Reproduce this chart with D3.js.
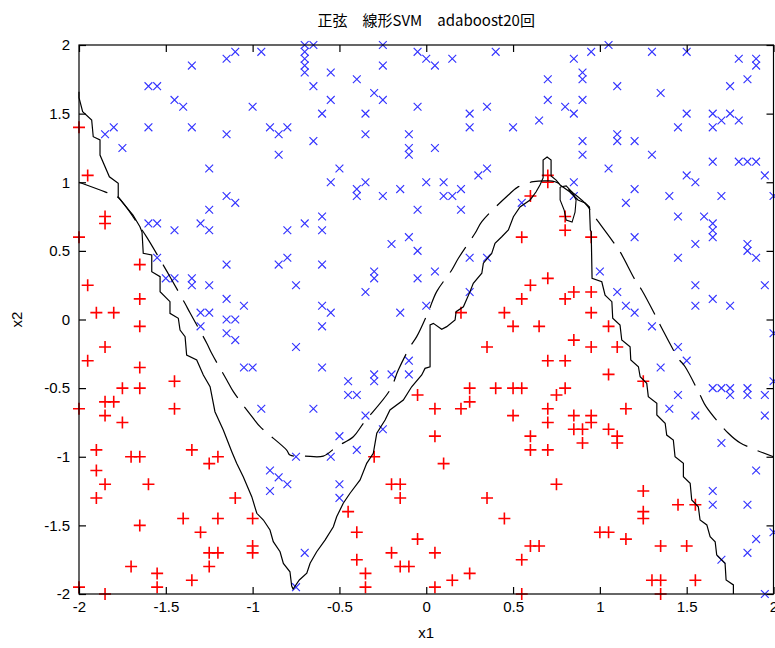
<!DOCTYPE html>
<html>
<head>
<meta charset="utf-8">
<script src="https://cdn.jsdelivr.net/npm/d3@7"></script>
<style>
  html, body { margin: 0; padding: 0; background: #fff; }
  svg { display: block; }
  .tick-label { font-family: "Liberation Sans", Arial, sans-serif; font-size: 15px; fill: #000; }
</style>
</head>
<body>
<svg id="chart" width="775" height="648"></svg>
<script>
// Axis tick values
const xTicks = [-2, -1.5, -1, -0.5, 0, 0.5, 1, 1.5, 2];
const yTicks = [-2, -1.5, -1, -0.5, 0, 0.5, 1, 1.5, 2];

// Class "x" samples (above the sine boundary)
const crossPts = [
  [-1.15,1.9],[-1.1,1.95],[-0.95,1.95],[-1.35,1.85],[-1.6,1.7],[-1.55,1.7],[-1.45,1.6],[-1.4,1.55],[-1.0,1.55],
  [-1.85,1.35],[-1.8,1.4],[-1.6,1.4],[-1.35,1.4],[-1.15,1.35],[-0.9,1.4],[-0.85,1.35],[-0.8,1.4],
  [-1.75,1.25],[-0.85,1.2],[-1.25,1.1],[-1.15,0.9],[-1.1,0.85],[-1.25,0.8],[-1.6,0.7],[-1.55,0.7],
  [-1.45,0.65],[-1.3,0.7],[-1.25,0.65],[-0.8,0.65],[-0.7,0.7],[-0.65,1.7],[-0.65,1.3],[-0.6,1.5],[-0.6,0.75],[-0.6,0.65],
  [-0.7,2.0],[-0.65,2.0],[-0.7,1.95],[-0.7,1.9],[-0.7,1.85],[-0.7,1.8],
  [-0.25,2.0],[-0.05,1.95],[0,1.9],[0.05,1.85],[0.15,1.9],[0.4,1.95],[-0.25,1.85],[-0.55,1.8],[-0.4,1.75],
  [-0.3,1.65],[-0.25,1.6],[-0.55,1.6],[-0.05,1.55],[-0.35,1.5],[0.25,1.5],[0.35,1.55],[0.7,1.75],[0.7,1.6],
  [0.25,1.4],[0.5,1.4],[0.65,1.45],[-0.35,1.35],[-0.1,1.35],[-0.1,1.25],[-0.1,1.2],[0.05,1.25],[-0.5,1.1],
  [-0.55,1.0],[-0.35,1.0],[-0.4,0.95],[-0.4,0.9],[-0.25,0.9],[-0.15,0.95],[0,1.0],[0.1,1.0],[0.1,0.9],[0.15,0.9],[0.2,0.95],
  [0.3,1.05],[0.35,1.1],[-0.05,0.8],[0.2,0.8],[-0.1,0.6],[0.55,0.85],
  [1.05,2.0],[0.95,1.95],[0.85,1.9],[1.3,1.95],[1.5,1.95],[1.8,1.9],[1.9,1.9],[1.9,1.85],[0.9,1.8],[0.9,1.75],
  [1.1,1.7],[1.35,1.65],[1.75,1.7],[1.85,1.75],[0.8,1.55],[0.85,1.5],[0.9,1.6],[1.5,1.5],[1.45,1.4],
  [1.65,1.5],[1.7,1.45],[1.75,1.5],[1.8,1.45],[1.65,1.4],[1.1,1.35],[1.1,1.3],[1.2,1.3],[0.9,1.3],[0.9,1.2],[1.3,1.2],
  [1.05,1.1],[1.65,1.15],[1.8,1.15],[1.85,1.15],[1.9,1.15],[1.95,1.05],[1.5,1.05],[1.55,1.0],[0.85,1.0],[1.2,0.95],
  [1.15,0.85],[1.4,0.9],[1.7,0.9],[2.0,0.9],[1.45,0.75],[1.6,0.75],[1.65,0.7],[1.65,0.65],[1.65,0.6],[1.2,0.6],[0.85,0.9],
  [-0.2,0.55],[-0.05,0.5],[-1.55,0.45],[-1.15,0.4],[-0.85,0.4],[-0.8,0.45],[-0.6,0.4],[-1.5,0.3],[-1.45,0.3],[-1.35,0.3],[-1.35,0.25],[-1.25,0.25],
  [-0.75,0.25],[-0.3,0.35],[-0.3,0.3],[-0.35,0.2],[-0.05,0.3],[-1.15,0.15],[-1.05,0.1],[-1.3,0.05],[-1.25,0.05],[-0.6,0.1],[-0.55,0.05],
  [-0.15,0.05],[0,0.1],[-1.15,0],[-1.1,0],[-1.3,-0.05],[-1.15,-0.1],[-1.1,-0.15],[-0.6,-0.05],[-0.75,-0.2],[-1.05,-0.35],[-1.0,-0.35],
  [-0.6,-0.35],[-0.1,-0.3],[-0.1,-0.4],[-0.2,-0.4],[-0.3,-0.4],[-0.3,-0.45],[-0.45,-0.45],[-0.45,-0.55],[-0.4,-0.55],[-0.95,-0.65],[-0.65,-0.65],
  [-0.35,-0.7],[-0.25,-0.8],[-0.5,-0.85],[-0.4,-0.95],[-0.75,-1.0],[-0.55,-1.0],[-0.9,-1.1],[-0.85,-1.15],[-0.8,-1.2],[-0.9,-1.25],
  [-0.5,-1.2],[-0.5,-1.3],[-0.7,-1.7],[-0.75,-1.95],
  [1.55,0.55],[1.85,0.55],[1.85,0.5],[1.9,0.45],[1.45,0.45],[0.25,0.45],[0.35,0.45],[0.05,0.35],[1.0,0.35],[0.25,0.2],[1.1,0.2],
  [1.15,0.1],[1.2,0.05],[1.55,0.25],[1.65,0.15],[1.75,0.1],[1.55,0.1],[1.95,0.25],[1.3,-0.05],[2.0,-0.1],[1.45,-0.2],[1.5,-0.3],[1.35,-0.35],
  [1.65,-0.5],[1.7,-0.5],[1.75,-0.5],[1.75,-0.55],[1.85,-0.5],[1.85,-0.55],[1.95,-0.55],[2.0,-0.45],[1.45,-0.55],[1.4,-0.65],[1.55,-0.7],[1.95,-0.7],
  [1.7,-0.9],[1.9,-1.1],[1.65,-1.25],[1.65,-1.35],[1.85,-1.35],[1.9,-1.6],[2.0,-1.55],[1.85,-1.7],[1.7,-1.75],[1.95,-2.0]
];

// Class "+" samples (below the sine boundary)
const plusPts = [
  [-2.0,1.4],[-1.95,1.05],[-1.85,0.75],[-1.85,0.7],[-2.0,0.6],[-1.65,0.4],[-1.95,0.25],[-1.65,0.15],[-1.9,0.05],[-1.8,0.05],
  [-1.65,-0.05],[-1.85,-0.2],[-1.95,-0.3],[-1.65,-0.35],[-1.45,-0.45],[-1.75,-0.5],[-1.65,-0.5],[-1.85,-0.6],[-1.8,-0.6],[-1.85,-0.7],
  [-1.45,-0.65],[-2.0,-0.65],[-1.75,-0.75],[-1.9,-0.95],[-1.7,-1.0],[-1.65,-1.0],[-1.35,-0.95],[-1.2,-1.0],[-1.25,-1.05],[-1.9,-1.1],
  [-1.85,-1.2],[-1.6,-1.2],[-1.9,-1.3],[-1.1,-1.3],[-1.4,-1.45],[-1.2,-1.45],[-1.0,-1.45],[-1.65,-1.5],[-1.3,-1.55],[-0.45,-1.4],
  [-0.4,-1.55],[-1.0,-1.65],[-1.0,-1.7],[-1.25,-1.7],[-1.2,-1.7],[-1.25,-1.8],[-1.7,-1.8],[-1.55,-1.85],[-1.55,-1.95],[-1.35,-1.9],
  [-0.4,-1.75],[-0.35,-1.85],[-0.35,-1.95],[-0.2,-1.7],[-0.15,-1.8],[-0.1,-1.8],[-0.05,-1.6],[-0.2,-1.2],[-0.15,-1.2],[-0.15,-1.3],
  [-0.3,-1.0],[-0.05,-0.55],[-2.0,-1.95],[-1.85,-2.0],
  [0.7,1.05],[0.7,1.0],[0.6,0.9],[0.55,0.6],[0.8,0.75],[0.8,0.65],[0.95,0.6],
  [0.7,0.3],[0.6,0.25],[0.85,0.2],[0.95,0.2],[0.55,0.15],[0.8,0.15],[0.2,0.05],[0.45,0.05],[0.95,0.05],[0.5,-0.05],[0.65,-0.05],[1.05,-0.05],
  [0.85,-0.15],[0.35,-0.2],[0.95,-0.2],[1.1,-0.2],[0.7,-0.3],[0.8,-0.3],[1.05,-0.4],[1.25,-0.45],[0.25,-0.5],[0.25,-0.6],[0.4,-0.5],[0.5,-0.5],[0.55,-0.5],
  [0.8,-0.5],[0.75,-0.55],[0.05,-0.65],[0.2,-0.65],[0.5,-0.7],[0.7,-0.65],[0.7,-0.75],[0.85,-0.7],[0.85,-0.8],[0.95,-0.7],[0.95,-0.75],
  [0.9,-0.8],[0.9,-0.9],[1.05,-0.8],[1.1,-0.85],[1.1,-0.9],[1.15,-0.65],[0.05,-0.85],[0.6,-0.85],[0.6,-0.95],[0.7,-0.95],[0.1,-1.05],
  [0.75,-1.2],[0.35,-1.3],[0.45,-1.45],[1.25,-1.25],[1.25,-1.4],[1.25,-1.45],[1.45,-1.35],[1.55,-1.35],[1.0,-1.55],[1.05,-1.55],[1.15,-1.6],
  [1.35,-1.65],[1.5,-1.65],[0.6,-1.65],[0.65,-1.65],[0.55,-1.75],[0.05,-1.7],[0.25,-1.85],[0.15,-1.9],[0.05,-1.95],[1.3,-1.9],[1.35,-1.9],[1.35,-2.0],
  [1.55,-1.9],[0.55,-2.0]
];

// Reference sine boundary (dashed)
const sineLine = [
  [-2.0,1.0],[-1.85,0.93],[-1.78,0.895],[-1.65,0.676],[-1.61,0.6],[-1.515,0.397],[-1.476,0.312],[-1.39,0.118],[-1.36,0.047],
  [-1.264,-0.173],[-1.236,-0.246],[-1.149,-0.441],[-1.111,-0.526],[-0.996,-0.72],[-0.957,-0.781],[-0.804,-0.951],[-0.785,-0.988],
  [-0.698,-0.995],[-0.593,-0.995],[-0.516,-0.927],[-0.42,-0.854],[-0.362,-0.756],[-0.209,-0.514],[-0.161,-0.368],[-0.093,-0.198],
  [-0.055,-0.125],[0.012,0.057],[0.06,0.203],[0.147,0.361],[0.185,0.446],[0.281,0.628],[0.32,0.713],[0.473,0.907],[0.531,0.968],
  [0.617,1.004],[0.69,1.01],[0.742,1.004],[0.915,0.847],[0.963,0.761],[1.069,0.579],[1.116,0.494],[1.203,0.288],[1.241,0.215],
  [1.328,0.009],[1.357,-0.064],[1.452,-0.283],[1.491,-0.344],[1.577,-0.55],[1.612,-0.635],[1.74,-0.829],[1.807,-0.898],[2.0,-1.0]
];

// AdaBoost (20 rounds) decision boundary (solid)
const boostLine = [
  [-2.0,1.66],[-2.0,1.616],[-1.979,1.514],[-1.927,1.454],[-1.918,1.332],[-1.879,1.308],[-1.879,1.198],[-1.825,1.04],[-1.774,0.992],
  [-1.774,0.894],[-1.745,0.846],[-1.689,0.761],[-1.649,0.676],[-1.637,0.637],[-1.63,0.482],[-1.581,0.47],[-1.581,0.348],[-1.533,0.312],
  [-1.533,0.203],[-1.476,0.13],[-1.476,0.045],[-1.428,0.009],[-1.418,-0.077],[-1.389,-0.125],[-1.38,-0.259],[-1.322,-0.295],[-1.284,-0.404],
  [-1.245,-0.49],[-1.217,-0.672],[-1.169,-0.805],[-1.12,-0.963],[-1.092,-1.048],[-1.054,-1.146],[-1.005,-1.291],[-0.976,-1.412],[-0.938,-1.461],
  [-0.9,-1.534],[-0.881,-1.619],[-0.842,-1.692],[-0.823,-1.777],[-0.785,-1.838],[-0.775,-1.942],[-0.767,-1.964],[-0.731,-1.898],[-0.688,-1.849],
  [-0.669,-1.776],[-0.631,-1.692],[-0.583,-1.607],[-0.535,-1.51],[-0.516,-1.437],[-0.478,-1.339],[-0.439,-1.266],[-0.381,-1.169],[-0.343,-1.048],
  [-0.305,-0.975],[-0.285,-0.829],[-0.237,-0.732],[-0.209,-0.659],[-0.132,-0.587],[-0.084,-0.49],[-0.026,-0.404],[-0.007,-0.356],[0.022,-0.344],
  [0.022,-0.04],[0.041,-0.028],[0.089,-0.071],[0.118,-0.052],[0.166,-0.004],[0.172,0.057],[0.214,0.093],[0.252,0.203],[0.271,0.264],
  [0.32,0.337],[0.329,0.41],[0.377,0.482],[0.396,0.555],[0.435,0.603],[0.473,0.652],[0.502,0.749],[0.54,0.82],[0.598,0.871],[0.632,0.929],
  [0.655,0.98],[0.673,1.031],[0.673,1.162],[0.696,1.184],[0.719,1.162],[0.719,1.046],[0.748,1.016],[0.771,0.98],[0.828,0.929],[0.874,0.871],
  [0.915,0.849],[0.94,0.82],[0.945,0.652],[0.95,0.64],[0.955,0.3],[1.011,0.275],[1.03,0.178],[1.069,0.13],[1.074,0.009],[1.116,-0.04],[1.126,-0.149],
  [1.174,-0.198],[1.178,-0.295],[1.222,-0.344],[1.232,-0.417],[1.27,-0.465],[1.279,-0.562],[1.328,-0.611],[1.328,-0.696],[1.376,-0.756],
  [1.385,-0.842],[1.423,-0.878],[1.433,-1.0],[1.481,-1.048],[1.481,-1.145],[1.52,-1.193],[1.529,-1.315],[1.567,-1.364],[1.577,-1.461],
  [1.616,-1.497],[1.635,-1.583],[1.664,-1.619],[1.673,-1.716],[1.721,-1.776],[1.727,-1.898],[1.769,-1.934],[1.769,-2.0]
];

// Small closed contour of the same boundary, right of the peak
const boostIsland = [
  [0.771,0.965],[0.806,0.973],[0.84,0.929],[0.863,0.871],[0.857,0.783],[0.84,0.71],[0.806,0.725],[0.794,0.798],[0.771,0.871],[0.771,0.965]
];

const titleText = "正弦\u3000線形SVM\u3000adaboost20回";

const plot = { left: 79, right: 773.5, top: 45, bottom: 594 };
const svg = d3.select("#chart");
svg.append("rect").attr("width", 775).attr("height", 648).attr("fill", "#fff");

const x = d3.scaleLinear().domain([-2, 2]).range([plot.left, plot.right]);
const y = d3.scaleLinear().domain([-2, 2]).range([plot.bottom, plot.top]);

svg.append("defs").append("clipPath").attr("id", "plotClip")
  .append("rect")
  .attr("x", plot.left - 8).attr("y", plot.top - 8)
  .attr("width", plot.right - plot.left + 16).attr("height", plot.bottom - plot.top + 16);

const g = svg.append("g").attr("clip-path", "url(#plotClip)");

// Markers: "+" in red
const plusSize = 6;
g.append("g").selectAll("path").data(plusPts).join("path")
  .attr("d", d => {
    const cx = x(d[0]), cy = y(d[1]);
    return `M${cx - plusSize},${cy}H${cx + plusSize}M${cx},${cy - plusSize}V${cy + plusSize}`;
  })
  .attr("stroke", "#ff0000").attr("stroke-width", 1.6).attr("fill", "none");

// Markers: "x" in blue
const crossSize = 3.9;
g.append("g").selectAll("path").data(crossPts).join("path")
  .attr("d", d => {
    const cx = x(d[0]), cy = y(d[1]);
    return `M${cx - crossSize},${cy - crossSize}L${cx + crossSize},${cy + crossSize}M${cx - crossSize},${cy + crossSize}L${cx + crossSize},${cy - crossSize}`;
  })
  .attr("stroke", "#3434ff").attr("stroke-width", 1.15).attr("fill", "none");

const lineGen = d3.line().x(d => x(d[0])).y(d => y(d[1]));

// Solid boundary and its island
g.append("path").datum(boostLine)
  .attr("d", lineGen)
  .attr("fill", "none").attr("stroke", "#000").attr("stroke-width", 1.2);
g.append("path").datum(boostIsland)
  .attr("d", lineGen)
  .attr("fill", "none").attr("stroke", "#000").attr("stroke-width", 1.1);

// Dashed sine boundary
g.append("path").datum(sineLine)
  .attr("d", d3.line().x(d => x(d[0])).y(d => y(d[1])).curve(d3.curveCatmullRom))
  .attr("fill", "none").attr("stroke", "#000").attr("stroke-width", 1.2)
  .attr("stroke-dasharray", "30,11");

// Axes box with inward ticks on all four sides
const tickLen = 7;
const axes = svg.append("g");
axes.append("rect")
  .attr("x", plot.left).attr("y", plot.top)
  .attr("width", plot.right - plot.left).attr("height", plot.bottom - plot.top)
  .attr("fill", "none").attr("stroke", "#000").attr("stroke-width", 1.2);

const fmt = d => String(d);
const bottomAxis = d3.axisBottom(x).tickValues(xTicks).tickSizeInner(-tickLen).tickSizeOuter(0).tickFormat(fmt);
const leftAxis = d3.axisLeft(y).tickValues(yTicks).tickSizeInner(-tickLen).tickSizeOuter(0).tickFormat(fmt);
const topAxis = d3.axisTop(x).tickValues(xTicks).tickSizeInner(-tickLen).tickSizeOuter(0).tickFormat("");
const rightAxis = d3.axisRight(y).tickValues(yTicks).tickSizeInner(-tickLen).tickSizeOuter(0).tickFormat("");

function styleAxis(sel) {
  sel.select(".domain").remove();
  sel.selectAll(".tick line").attr("stroke", "#000").attr("stroke-width", 1.2);
  sel.selectAll(".tick text").attr("class", "tick-label").attr("fill", "#000");
}

axes.append("g").attr("transform", `translate(0,${plot.bottom})`).call(bottomAxis).call(styleAxis)
  .selectAll(".tick text").attr("dy", "0").attr("y", 18);
axes.append("g").attr("transform", `translate(${plot.left},0)`).call(leftAxis).call(styleAxis)
  .selectAll(".tick text").attr("x", -9);
axes.append("g").attr("transform", `translate(0,${plot.top})`).call(topAxis).call(styleAxis);
axes.append("g").attr("transform", `translate(${plot.right},0)`).call(rightAxis).call(styleAxis);

// Axis labels and title
svg.append("text")
  .attr("x", (plot.left + plot.right) / 2).attr("y", 638)
  .attr("text-anchor", "middle")
  .attr("font-family", "Liberation Sans, Arial, sans-serif").attr("font-size", 15)
  .text("x1");

svg.append("text")
  .attr("transform", `translate(22,${(plot.top + plot.bottom) / 2}) rotate(-90)`)
  .attr("text-anchor", "middle")
  .attr("font-family", "Liberation Sans, Arial, sans-serif").attr("font-size", 15)
  .text("x2");

svg.append("text")
  .attr("x", (plot.left + plot.right) / 2).attr("y", 26)
  .attr("text-anchor", "middle")
  .attr("font-family", "Noto Sans CJK JP, sans-serif").attr("font-size", 15)
  .text(titleText);
</script>
</body>
</html>
